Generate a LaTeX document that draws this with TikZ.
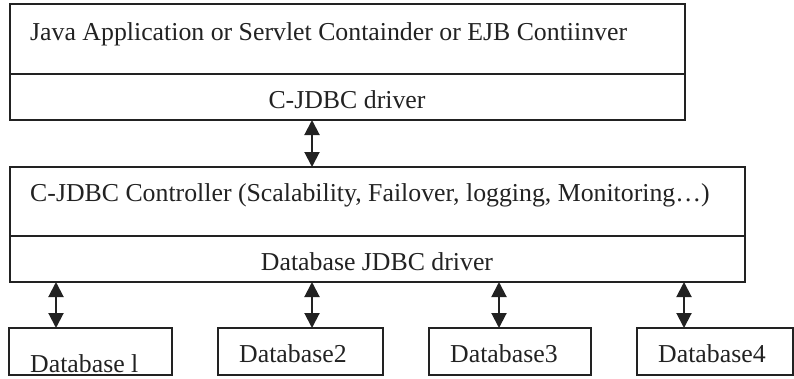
\documentclass[tikz,border=0pt]{standalone}
\usepackage{fontspec}
\setmainfont{Liberation Serif}
\usetikzlibrary{arrows.meta}
\definecolor{ink}{HTML}{222222}
\begin{document}
\begin{tikzpicture}[x=1pt,y=-1pt,
  box/.style={draw=ink,line width=1.4pt,fill=none},
  lbl/.style={inner sep=0pt,anchor=base west,text=ink,font=\fontsize{25.8}{30}\selectfont},
  clbl/.style={inner sep=0pt,anchor=base,text=ink,font=\fontsize{25.8}{30}\selectfont},
  arr/.style={draw=ink,line width=2pt,{Triangle[width=15pt,length=15pt]}-{Triangle[width=15pt,length=15pt]}}]
\useasboundingbox (0,0) rectangle (794,378);
% boxes
\draw[box] (10,4) rectangle (685,74) node[pos=0.5] (app) {};
\draw[box] (10,74) rectangle (685,120) node[pos=0.5] (drv) {};
\draw[box] (10,167) rectangle (745,236) node[pos=0.5] (ctrl) {};
\draw[box] (10,236) rectangle (745,282) node[pos=0.5] (jdbc) {};
\draw[box] (9,328) rectangle (172,375);
\draw[box] (218,328) rectangle (383,375);
\draw[box] (429,328) rectangle (591,375);
\draw[box] (637,328) rectangle (793,375);
% texts
\node[lbl] (tapp) at (30,40) {Java Application or Servlet Containder or EJB Contiinver};
\node[clbl] (tdrv) at (347,108) {C-JDBC driver};
\node[lbl] (tctrl) at (30,201) {C-JDBC Controller (Scalability, Failover, logging, Monitoring…)};
\node[clbl] (tjdbc) at (377,270) {Database JDBC driver};
\node[lbl] (tdb1) at (30,372) {Database l};
\node[lbl] (tdb2) at (239,362) {Database2};
\node[lbl] (tdb3) at (450,362) {Database3};
\node[lbl] (tdb4) at (658,362) {Database4};
% connector anchors
\coordinate (a0t) at (312,120); \coordinate (a0b) at (312,167);
\coordinate (a1t) at (56,282); \coordinate (a1b) at (56,328);
\coordinate (a2t) at (312,282); \coordinate (a2b) at (312,328);
\coordinate (a3t) at (499,282); \coordinate (a3b) at (499,328);
\coordinate (a4t) at (684,282); \coordinate (a4b) at (684,328);
\draw[arr] (a0t) -- (a0b);
\draw[arr] (a1t) -- (a1b);
\draw[arr] (a2t) -- (a2b);
\draw[arr] (a3t) -- (a3b);
\draw[arr] (a4t) -- (a4b);
\end{tikzpicture}
\end{document}
